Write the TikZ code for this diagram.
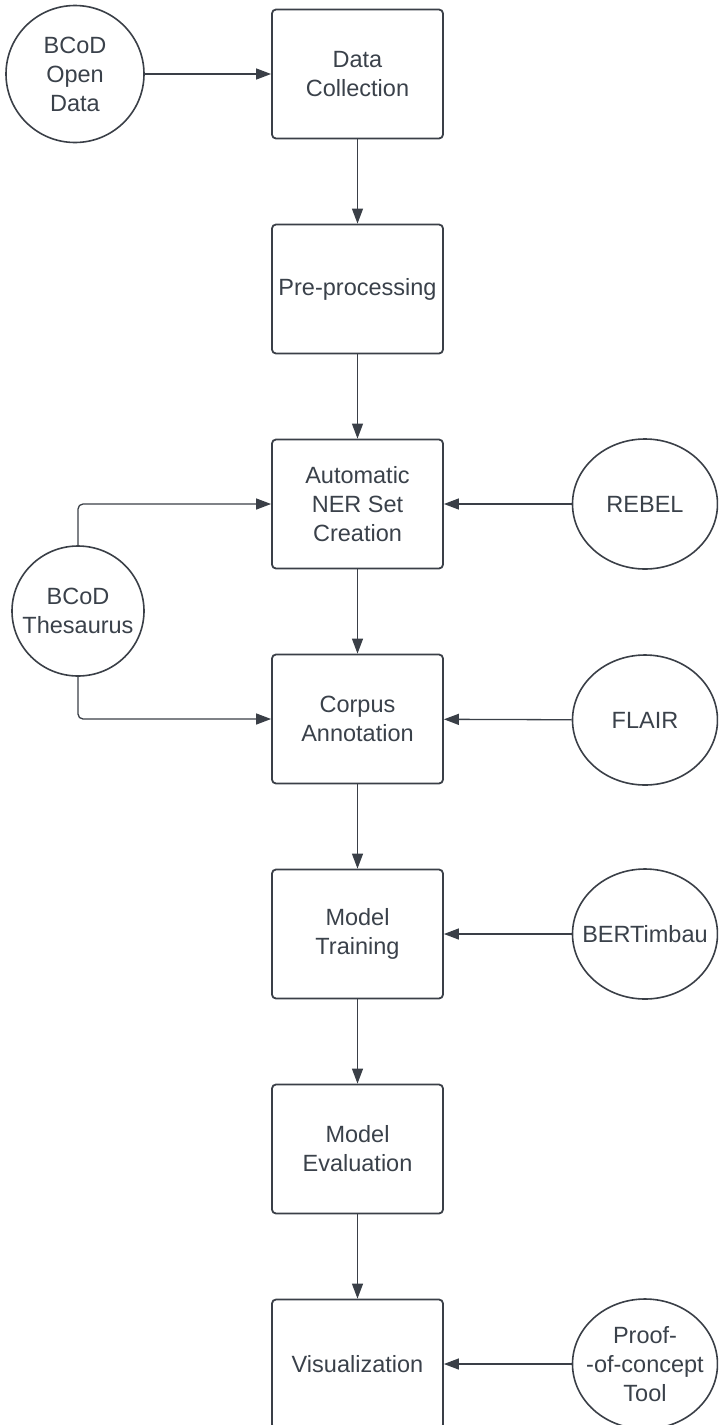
\documentclass[tikz,border=0pt]{standalone}
\usepackage{fontspec}
\setmainfont{Liberation Sans}
\usetikzlibrary{arrows.meta,shapes.geometric}
\definecolor{ink}{RGB}{58,63,71}
\definecolor{txt}{RGB}{58,65,74}
\tikzset{
  stepbox/.style={draw=ink, line width=1.8pt, rounded corners=4pt, minimum width=171pt, minimum height=129pt, inner sep=0pt, align=center, text=txt, font=\fontsize{23.5}{29}\selectfont},
  source/.style={draw=ink, line width=1.6pt, ellipse, inner sep=0pt},
  srctext/.style={align=center, text=txt, inner sep=0pt, font=\fontsize{23.5}{29}\selectfont},
  link/.style={draw=ink, line width=1.3pt, -{Triangle[length=15pt,width=11pt]}},
}
\begin{document}
\begin{tikzpicture}[x=1pt,y=-1pt]
\useasboundingbox (0,0) rectangle (718,1425);
\clip (0,0) rectangle (718,1425);
% process boxes
\node[stepbox] (dc) at (357.5,74) {Data\\Collection};
\node[stepbox] (pre) at (357.5,289) {Pre-processing};
\node[stepbox] (ner) at (357.5,504) {Automatic\\NER Set\\Creation};
\node[stepbox] (corpus) at (357.5,719) {Corpus\\Annotation};
\node[stepbox] (train) at (357.5,934) {Model\\Training};
\node[stepbox] (eval) at (357.5,1149) {Model\\Evaluation};
\node[stepbox] (vis) at (357.5,1364) {Visualization};
% sources
\node[source, minimum width=138pt, minimum height=137pt] (open) at (75,74) {};
\node[srctext] (opent) at (open.center) {BCoD\\Open\\Data};
\node[source, minimum width=132pt, minimum height=130pt] (thes) at (78,611) {};
\node[srctext] (thest) at (thes.center) {BCoD\\Thesaurus};
\node[source, minimum width=145pt, minimum height=130pt] (rebel) at (645,504) {};
\node[srctext] (rebelt) at (rebel.center) {REBEL};
\node[source, minimum width=145pt, minimum height=130pt] (flair) at (645,720) {};
\node[srctext] (flairt) at (flair.center) {FLAIR};
\node[source, minimum width=145pt, minimum height=130pt] (bert) at (645,934) {};
\node[srctext] (bertt) at (bert.center) {BERTimbau};
\node[source, minimum width=145pt, minimum height=130pt] (proof) at (645,1364) {};
\node[srctext] (prooft) at (proof.center) {Proof-\\-of-concept\\Tool};
% main flow
\draw[link] (dc) -- (pre);
\draw[link] (pre) -- (ner);
\draw[link] (ner) -- (corpus);
\draw[link] (corpus) -- (train);
\draw[link] (train) -- (eval);
\draw[link] (eval) -- (vis);
% inputs
\draw[link] (open) -- (dc);
\draw[link] (rebel) -- (ner);
\draw[link] (flair) -- (corpus);
\draw[link] (bert) -- (train);
\draw[link] (proof) -- (vis);
\draw[link, rounded corners=5pt] (thes.north) |- (ner.west);
\draw[link, rounded corners=5pt] (thes.south) |- (corpus.west);
\end{tikzpicture}
\end{document}
